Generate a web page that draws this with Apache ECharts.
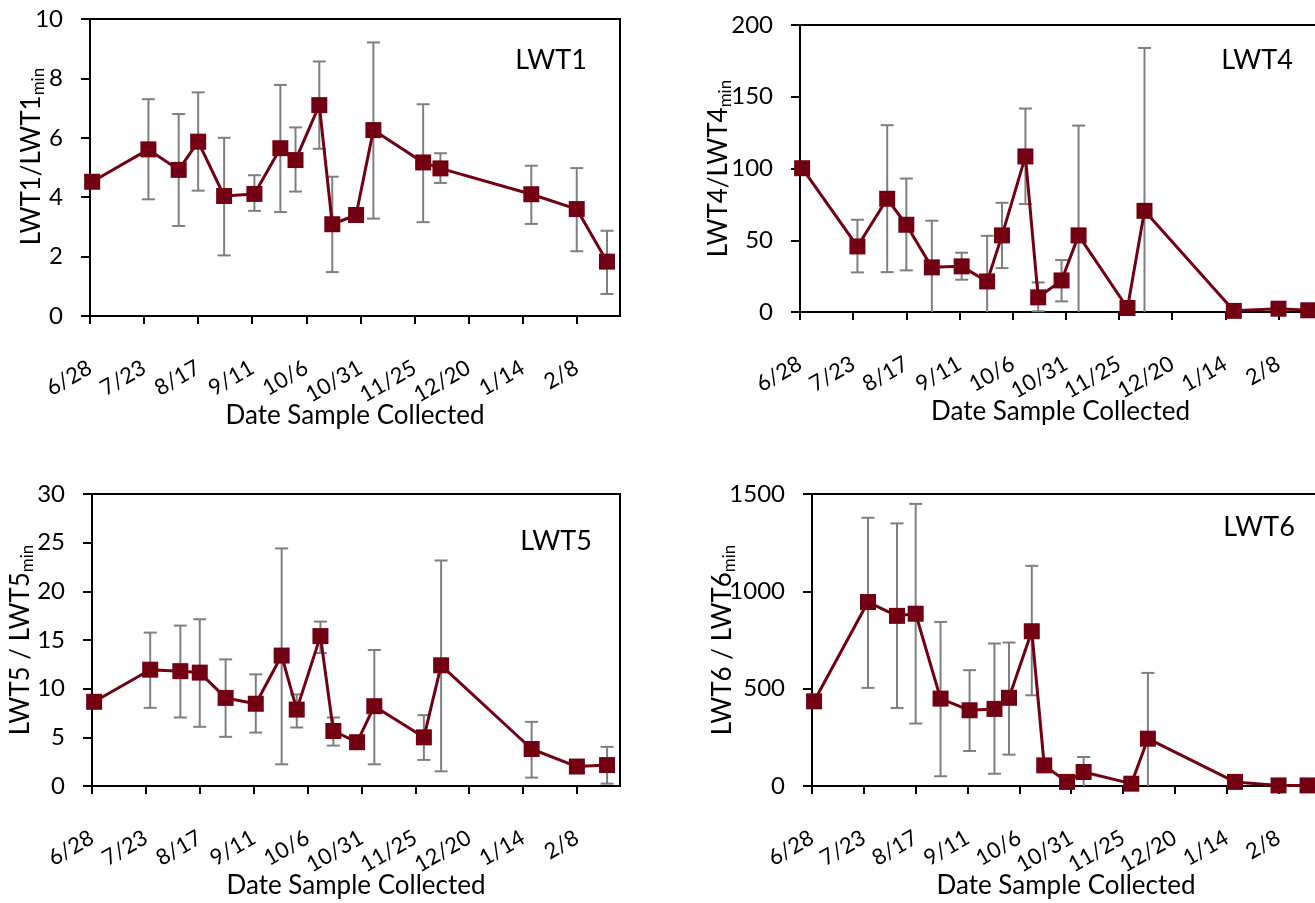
<!DOCTYPE html>
<html><head><meta charset="utf-8">
<script src="https://cdn.jsdelivr.net/npm/echarts@6/dist/echarts.min.js"></script>
<style>html,body{margin:0;padding:0;background:#fff;overflow:hidden;width:1315px;height:903px}#chart{width:1330px;height:903px}</style>
</head><body><div id="chart"></div>
<script>
// ---- data ----
const tickLabels = ['6/28','7/23','8/17','9/11','10/6','10/31','11/25','12/20','1/14','2/8'];
const axisStart = '6/28';
const axisEnd = '2/28';
const sampleDates = ['6/29','7/25','8/8','8/17','8/29','9/12','9/24','10/1','10/12','10/18','10/29','11/6','11/29','12/7','1/18','2/8','2/22'];

const lwt1Mean  = [4.52, 5.61, 4.92, 5.87, 4.04, 4.11, 5.65, 5.25, 7.10, 3.09, 3.40, 6.26, 5.17, 4.97, 4.10, 3.60, 1.83];
const lwt1Upper = [null, 7.30, 6.80, 7.53, 6.00, 4.74, 7.78, 6.35, 8.57, 4.69, null, 9.21, 7.13, 5.48, 5.06, 4.98, 2.87];
const lwt1Lower = [null, 3.93, 3.03, 4.22, 2.04, 3.54, 3.50, 4.19, 5.63, 1.48, null, 3.28, 3.16, 4.48, 3.10, 2.18, 0.74];

const lwt4Mean  = [100.2, 45.7, 78.9, 60.8, 31.1, 31.8, 21.3, 53.4, 108.4, 10.2, 22.0, 53.4, 2.8, 70.5, 0.8, 2.3, 1.2];
const lwt4Upper = [null, 64.3, 130.2, 93.0, 63.6, 41.3, 53.1, 76.1, 141.8, 20.6, 36.2, 129.9, null, 184, null, null, null];
const lwt4Lower = [null, 27.6, 27.8, 29.0, 0, 22.5, 0, 30.6, 75.2, 0.5, 7.4, 0, null, 0, null, null, null];

const lwt5Mean  = [8.65, 11.95, 11.8, 11.65, 9.05, 8.45, 13.4, 7.85, 15.4, 5.65, 4.5, 8.2, 5.0, 12.4, 3.8, 2.0, 2.15];
const lwt5Upper = [null, 15.76, 16.48, 17.13, 13.01, 11.47, 24.41, 9.41, 16.89, 7.04, null, 13.97, 7.28, 23.17, 6.59, null, 4.02];
const lwt5Lower = [null, 8.03, 7.04, 6.08, 5.05, 5.49, 2.23, 6.01, 13.66, 4.15, null, 2.23, 2.68, 1.51, 0.86, null, 0.24];

const lwt6Mean  = [435, 945, 874, 885, 449, 389, 396, 453, 795, 106, 21, 72, 12, 243, 21, 3, 3];
const lwt6Upper = [null, 1378, 1349, 1449, 843, 595, 732, 737, 1131, null, null, 149, null, 581, null, null, null];
const lwt6Lower = [null, 504, 401, 321, 50, 180, 63, 161, 466, null, null, 0, null, 0, null, null, null];

const xTitle = 'Date Sample Collected';

// ---- helpers ----
function dayOffset(md) {
  const [m, d] = md.split('/').map(Number);
  const [m0, d0] = axisStart.split('/').map(Number);
  const y = m >= m0 ? 2001 : 2002;
  return Math.round((Date.UTC(y, m - 1, d) - Date.UTC(2001, m0 - 1, d0)) / 86400000);
}
const tickVals = tickLabels.map(dayOffset);
const xMax = dayOffset(axisEnd);
const xs = sampleDates.map(dayOffset);

const FONT = 'Lato, "Open Sans", sans-serif';
const RED = '#730012';
const GRAY = '#7f7f7f';

const panels = [
  {label:'LWT1', yMain:'LWT1/LWT1', max:10, interval:2, mean:lwt1Mean, hi:lwt1Upper, lo:lwt1Lower,
   grid:{left:90, top:19, width:530, height:297}, lab:[551, 60], nameGap:43, lead:22},
  {label:'LWT4', yMain:'LWT4/LWT4', max:200, interval:50, mean:lwt4Mean, hi:lwt4Upper, lo:lwt4Lower,
   grid:{left:800, top:25, width:521, height:287}, lab:[1257, 60], nameGap:66, lead:0},
  {label:'LWT5', yMain:'LWT5 / LWT5', max:30, interval:5, mean:lwt5Mean, hi:lwt5Upper, lo:lwt5Lower,
   grid:{left:92, top:494, width:528, height:292}, lab:[556, 541], nameGap:56, lead:0},
  {label:'LWT6', yMain:'LWT6 / LWT6', max:1500, interval:500, mean:lwt6Mean, hi:lwt6Upper, lo:lwt6Lower,
   grid:{left:812, top:494, width:508, height:292}, lab:[1259, 527], nameGap:74, lead:0}
];

function renderErr(params, api) {
  const x = api.value(0), lo = api.value(1), hi = api.value(2);
  const pLo = api.coord([x, lo]);
  const pHi = api.coord([x, hi]);
  const cap = 6.5;
  const style = {stroke: GRAY, lineWidth: 2};
  const children = [
    {type:'line', shape:{x1:pLo[0], y1:pLo[1], x2:pHi[0], y2:pHi[1]}, style},
    {type:'line', shape:{x1:pHi[0]-cap, y1:pHi[1], x2:pHi[0]+cap, y2:pHi[1]}, style}
  ];
  if (lo > 0) children.push({type:'line', shape:{x1:pLo[0]-cap, y1:pLo[1], x2:pLo[0]+cap, y2:pLo[1]}, style});
  return {type:'group', children};
}

const grids = [], xAxes = [], yAxes = [], series = [], graphics = [];
panels.forEach((p, i) => {
  grids.push(Object.assign({show:true, borderColor:'#000', borderWidth:2, backgroundColor:'transparent',
    containLabel:false, outerBoundsMode:'none'}, p.grid));
  xAxes.push({
    type:'value', gridIndex:i, min:0, max:xMax, interval:25,
    axisLine:{show:true, onZero:false, lineStyle:{color:'#000', width:2}},
    axisTick:{show:true, inside:false, length:8, lineStyle:{color:'#000', width:2}, customValues:tickVals},
    axisLabel:{rotate:30, margin:50, fontSize:22, fontFamily:FONT, color:'#000', customValues:tickVals,
      formatter: v => { const k = tickVals.indexOf(Math.round(v)); return k >= 0 ? tickLabels[k] : ''; }},
    splitLine:{show:false},
    name:xTitle, nameLocation:'middle', nameGap:87, nameMoveOverlap:false,
    nameTextStyle:{fontSize:26, fontFamily:FONT, color:'#000', verticalAlign:'top'}
  });
  const lead = p.lead ? '{g| }' : '';
  yAxes.push({
    type:'value', gridIndex:i, min:0, max:p.max, interval:p.interval,
    axisLine:{show:true, lineStyle:{color:'#000', width:2}},
    axisTick:{show:true, inside:false, length:9, lineStyle:{color:'#000', width:2}},
    axisLabel:{margin:27, fontSize:24, fontFamily:FONT, color:'#000', formatter: v => String(v)},
    splitLine:{show:false},
    name: lead + '{m|' + p.yMain + '}{s|min}', nameLocation:'middle', nameGap:p.nameGap, nameMoveOverlap:false,
    nameTextStyle:{fontSize:26, fontFamily:FONT, color:'#000',
      rich:{m:{fontSize:26, fontFamily:FONT, color:'#000'},
            g:{fontSize:26, width:p.lead || 1},
            s:{fontSize:17, fontFamily:FONT, color:'#000', verticalAlign:'top', padding:[13,0,0,0]}}}
  });
  const errData = [];
  xs.forEach((x, k) => { if (p.hi[k] != null) errData.push([x, p.lo[k], p.hi[k]]); });
  series.push({type:'custom', xAxisIndex:i, yAxisIndex:i, data:errData, renderItem:renderErr, z:2, silent:true});
  series.push({type:'line', xAxisIndex:i, yAxisIndex:i, data:xs.map((x, k) => [x, p.mean[k]]),
    symbol:'rect', symbolSize:16, clip:false, z:3,
    lineStyle:{color:RED, width:3}, itemStyle:{color:RED}, animation:false});
  graphics.push({type:'text', x:p.lab[0], y:p.lab[1],
    style:{text:p.label, fontSize:27, fontFamily:FONT, fill:'#000', align:'center', verticalAlign:'middle'}});
});

const chart = echarts.init(document.getElementById('chart'), null, {renderer:'canvas'});
chart.setOption({animation:false, backgroundColor:'#fff', grid:grids, xAxis:xAxes, yAxis:yAxes, series, graphic:graphics});
</script></body></html>
